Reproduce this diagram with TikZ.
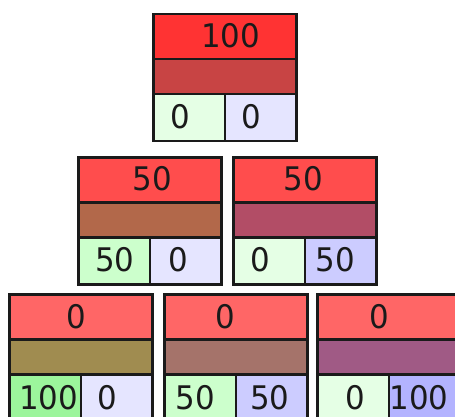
\documentclass[tikz,border=0pt]{standalone}
\usepackage{fontspec}
\newfontfamily\dv[FakeStretch=0.95]{DejaVu Sans}
\definecolor{redA}{HTML}{FF3333}
\definecolor{redB}{HTML}{FF4D4D}
\definecolor{redC}{HTML}{FF6666}
\definecolor{midT}{HTML}{C84444}
\definecolor{midA}{HTML}{B2684A}
\definecolor{midB}{HTML}{B24D66}
\definecolor{midCa}{HTML}{A08C50}
\definecolor{midCb}{HTML}{A5736A}
\definecolor{midCc}{HTML}{A05A85}
\definecolor{gz}{HTML}{E5FFE5}
\definecolor{gh}{HTML}{CCFFCC}
\definecolor{gf}{HTML}{9CF59C}
\definecolor{bz}{HTML}{E5E5FF}
\definecolor{bh}{HTML}{CCCCFF}
\definecolor{bf}{HTML}{B3B3FF}
\definecolor{edge}{HTML}{1A1A1A}
\definecolor{txt}{HTML}{1A1A1A}
\tikzset{
  cellbox/.style={draw=edge, line width=2.5pt, rectangle, inner sep=0pt, anchor=north west},
  num/.style={inner sep=0pt, text=txt, font=\dv\fontsize{32.5}{36}\selectfont}
}
% #1 name, #2 left, #3 top, #4 red, #5 mid, #6 green, #7 blue
\newcommand\mybox[7]{%
  \node[cellbox, fill=#4, minimum width=143pt, minimum height=45pt] (#1r) at (#2,#3) {};
  \node[cellbox, fill=#5, minimum width=143pt, minimum height=35pt] (#1m) at ({#2},{#3+45}) {};
  \node[cellbox, fill=#6, minimum width=71.5pt, minimum height=47pt] (#1g) at ({#2},{#3+80}) {};
  \node[cellbox, fill=#7, minimum width=71.5pt, minimum height=47pt] (#1b) at ({#2+71.5},{#3+80}) {};
}
\begin{document}
\begin{tikzpicture}[x=1pt,y=-1pt]
\useasboundingbox (0,0) rectangle (455,417);
\fill[white] (0,0) rectangle (455,417);
\clip (0,0) rectangle (455,417);
\mybox{t}{152}{13}{redA}{midT}{gz}{bz}
\mybox{a}{77}{156}{redB}{midA}{gh}{bz}
\mybox{b}{232}{156}{redB}{midB}{gz}{bh}
\mybox{c}{8}{293}{redC}{midCa}{gf}{bz}
\mybox{d}{163}{293}{redC}{midCb}{gh}{bh}
\mybox{e}{316}{293}{redC}{midCc}{gz}{bf}
% top numbers
\node[num] (tn) at (230.5,35.5) {100};
\node[num] (an) at (152.5,179) {50};
\node[num] (bn) at (303.5,179) {50};
\node[num] (cn) at (76,316.5) {0};
\node[num] (dn) at (225.5,316.5) {0};
\node[num] (en) at (379.5,316.5) {0};
% bottom numbers
\node[num] (tgn) at (180,116.5) {0};
\node[num] (tbn) at (251.5,116.5) {0};
\node[num] (agn) at (115,259.5) {50};
\node[num] (abn) at (178,259.5) {0};
\node[num] (bgn) at (260,259.5) {0};
\node[num] (bbn) at (335.5,259.5) {50};
\node[num] (cgn) at (48.5,398) {100};
\node[num] (cbn) at (107.5,398) {0};
\node[num] (dgn) at (195.5,398) {50};
\node[num] (dbn) at (270,398) {50};
\node[num] (egn) at (355,398) {0};
\node[num] (ebn) at (419,398) {100};
\end{tikzpicture}
\end{document}
